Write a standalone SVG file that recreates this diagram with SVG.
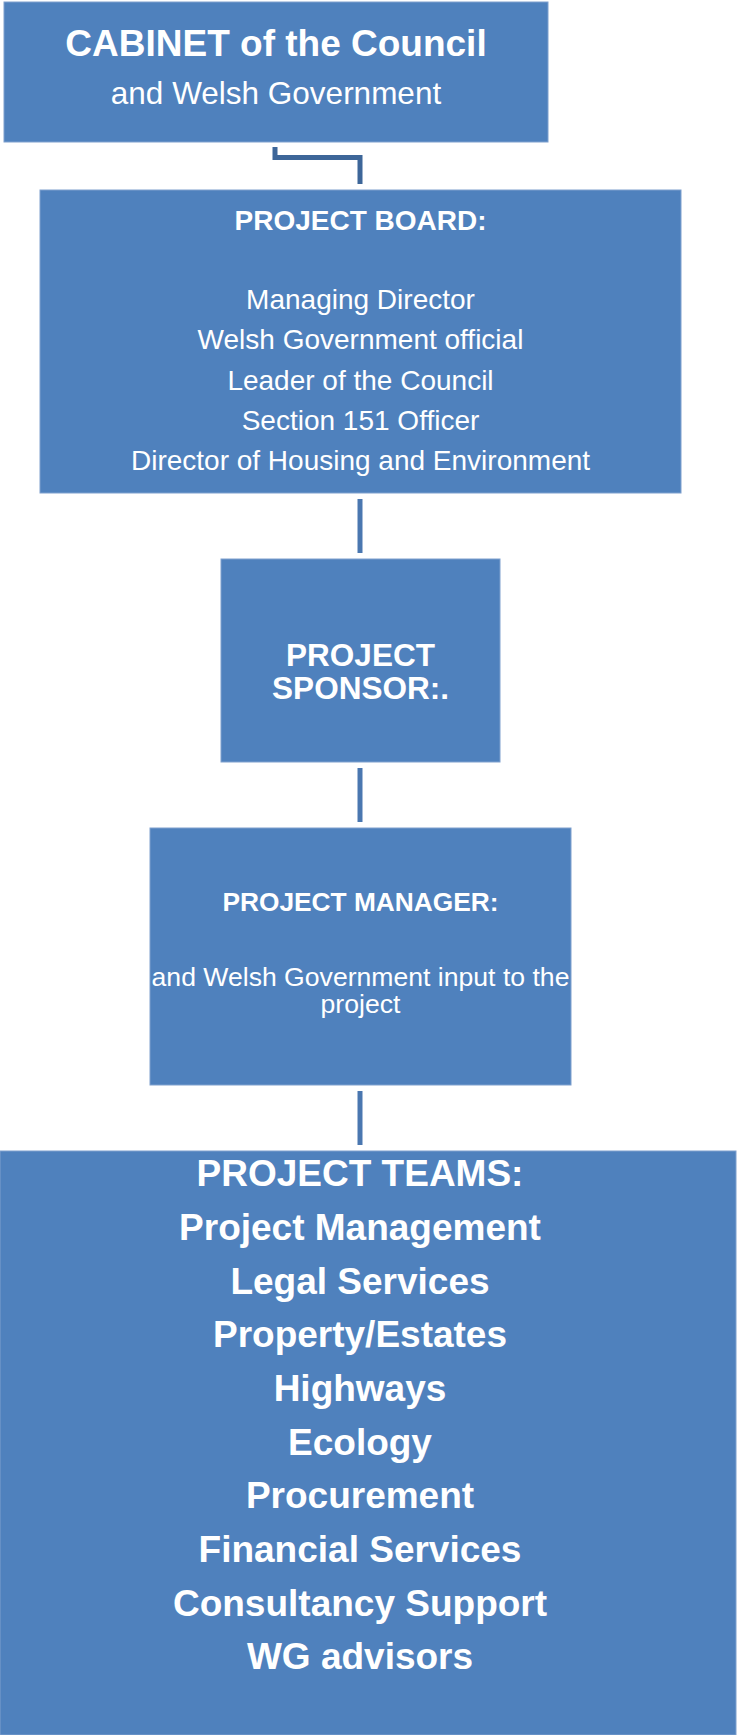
<svg xmlns="http://www.w3.org/2000/svg" width="737" height="1735" viewBox="0 0 737 1735">
<style>
.box{fill:#4F81BD;stroke:#7FA0CE;stroke-width:1}
.t{fill:#FFFFFF;font-family:"Liberation Sans",Arial,sans-serif;text-anchor:middle}
.b{font-weight:bold}
.conn{fill:none;stroke:#4A77B0;stroke-width:5}
.elbow{fill:none;stroke:#3D6699;stroke-width:5}
</style>
<rect x="0" y="0" width="737" height="1735" fill="#FFFFFF"/>
<g id="connectors">
<path class="elbow" d="M275,147 V157.5 H360 V184"/>
<line class="conn" x1="360" y1="499" x2="360" y2="553"/>
<line class="conn" x1="360" y1="768" x2="360" y2="822"/>
<line class="conn" x1="360" y1="1091" x2="360" y2="1145"/>
</g>
<g id="cabinet">
<rect class="box" x="4" y="2" width="544" height="140"/>
<text class="t b" x="276" y="56" font-size="37">CABINET of the Council</text>
<text class="t" x="276" y="104" font-size="31.5">and Welsh Government</text>
</g>
<g id="project-board">
<rect class="box" x="40" y="190" width="641" height="303"/>
<text class="t b" x="360.5" y="230" font-size="28">PROJECT BOARD:</text>
<text class="t" x="360.5" y="309" font-size="28">Managing Director</text>
<text class="t" x="360.5" y="349" font-size="28">Welsh Government official</text>
<text class="t" x="360.5" y="390" font-size="28">Leader of the Council</text>
<text class="t" x="360.5" y="430" font-size="28">Section 151 Officer</text>
<text class="t" x="360.5" y="470" font-size="28">Director of Housing and Environment</text>
</g>
<g id="project-sponsor">
<rect class="box" x="221" y="559" width="279" height="203"/>
<text class="t b" x="360.5" y="666" font-size="31.5">PROJECT</text>
<text class="t b" x="360.5" y="699" font-size="31.5">SPONSOR:.</text>
</g>
<g id="project-manager">
<rect class="box" x="150" y="828" width="421" height="257"/>
<text class="t b" x="360.5" y="911" font-size="26.3">PROJECT MANAGER:</text>
<text class="t" x="360.5" y="986" font-size="26.6">and Welsh Government input to the</text>
<text class="t" x="360.5" y="1013" font-size="26.6">project</text>
</g>
<g id="project-teams">
<rect class="box" x="0" y="1151" width="736" height="584"/>
<text class="t b" x="360" y="1186" font-size="37">PROJECT TEAMS:</text>
<text class="t b" x="360" y="1240" font-size="37">Project Management</text>
<text class="t b" x="360" y="1294" font-size="37">Legal Services</text>
<text class="t b" x="360" y="1347" font-size="37">Property/Estates</text>
<text class="t b" x="360" y="1401" font-size="37">Highways</text>
<text class="t b" x="360" y="1455" font-size="37">Ecology</text>
<text class="t b" x="360" y="1508" font-size="37">Procurement</text>
<text class="t b" x="360" y="1562" font-size="37">Financial Services</text>
<text class="t b" x="360" y="1616" font-size="37">Consultancy Support</text>
<text class="t b" x="360" y="1669" font-size="37">WG advisors</text>
</g>
</svg>
